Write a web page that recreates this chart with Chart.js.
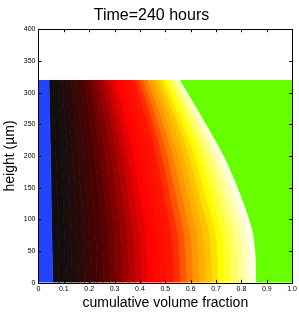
<!DOCTYPE html>
<html>
<head>
<meta charset="utf-8">
<script src="https://cdn.jsdelivr.net/npm/chart.js@4"></script>
<style>
  html, body { margin:0; padding:0; background:#fff; }
</style>
</head>
<body>
<canvas id="c" width="299" height="312"></canvas>
<script>
// heights (um) where the fractions were read
const heights = [0, 40, 80, 120, 160, 200, 240, 280, 320];

// volume fraction of each class at each height, stacked left to right
const blueFrac = [0.056, 0.054, 0.052, 0.050, 0.049, 0.047, 0.045, 0.043, 0.041];
const class01 = [0.0250, 0.0250, 0.0247, 0.0238, 0.0228, 0.0218, 0.0205, 0.0190, 0.0174];
const class02 = [0.0250, 0.0250, 0.0247, 0.0238, 0.0228, 0.0218, 0.0205, 0.0190, 0.0174];
const class03 = [0.0250, 0.0250, 0.0247, 0.0238, 0.0228, 0.0218, 0.0205, 0.0190, 0.0174];
const class04 = [0.0250, 0.0250, 0.0247, 0.0238, 0.0228, 0.0218, 0.0205, 0.0190, 0.0174];
const class05 = [0.0250, 0.0250, 0.0247, 0.0238, 0.0228, 0.0218, 0.0205, 0.0190, 0.0174];
const class06 = [0.0250, 0.0250, 0.0247, 0.0238, 0.0228, 0.0218, 0.0205, 0.0190, 0.0174];
const class07 = [0.0250, 0.0250, 0.0247, 0.0238, 0.0228, 0.0218, 0.0205, 0.0190, 0.0174];
const class08 = [0.0250, 0.0250, 0.0247, 0.0238, 0.0228, 0.0218, 0.0205, 0.0190, 0.0174];
const class09 = [0.0250, 0.0250, 0.0247, 0.0238, 0.0228, 0.0218, 0.0205, 0.0190, 0.0174];
const class10 = [0.0250, 0.0250, 0.0247, 0.0238, 0.0228, 0.0218, 0.0205, 0.0190, 0.0174];
const class11 = [0.0250, 0.0250, 0.0247, 0.0238, 0.0228, 0.0218, 0.0205, 0.0190, 0.0174];
const class12 = [0.0250, 0.0250, 0.0247, 0.0238, 0.0228, 0.0218, 0.0205, 0.0190, 0.0174];
const class13 = [0.0250, 0.0250, 0.0247, 0.0238, 0.0228, 0.0218, 0.0205, 0.0190, 0.0174];
const class14 = [0.0250, 0.0250, 0.0247, 0.0238, 0.0228, 0.0218, 0.0205, 0.0190, 0.0174];
const class15 = [0.0250, 0.0250, 0.0247, 0.0238, 0.0230, 0.0223, 0.0213, 0.0202, 0.0187];
const class16 = [0.0250, 0.0250, 0.0247, 0.0238, 0.0230, 0.0223, 0.0213, 0.0202, 0.0187];
const class17 = [0.0250, 0.0250, 0.0247, 0.0238, 0.0230, 0.0223, 0.0213, 0.0202, 0.0187];
const class18 = [0.0250, 0.0250, 0.0247, 0.0238, 0.0230, 0.0223, 0.0213, 0.0202, 0.0187];
const class19 = [0.0250, 0.0250, 0.0247, 0.0238, 0.0228, 0.0218, 0.0205, 0.0190, 0.0174];
const class20 = [0.0250, 0.0250, 0.0247, 0.0238, 0.0228, 0.0218, 0.0205, 0.0190, 0.0174];
const class21 = [0.0250, 0.0250, 0.0247, 0.0238, 0.0227, 0.0215, 0.0200, 0.0183, 0.0168];
const class22 = [0.0250, 0.0250, 0.0247, 0.0238, 0.0227, 0.0215, 0.0200, 0.0183, 0.0164];
const class23 = [0.0250, 0.0250, 0.0247, 0.0238, 0.0226, 0.0213, 0.0196, 0.0179, 0.0161];
const class24 = [0.0250, 0.0250, 0.0247, 0.0238, 0.0226, 0.0213, 0.0196, 0.0179, 0.0159];
const class25 = [0.0250, 0.0250, 0.0247, 0.0238, 0.0225, 0.0211, 0.0193, 0.0174, 0.0157];
const class26 = [0.0250, 0.0250, 0.0247, 0.0238, 0.0225, 0.0211, 0.0193, 0.0174, 0.0150];
const class27 = [0.0250, 0.0250, 0.0247, 0.0238, 0.0223, 0.0203, 0.0179, 0.0156, 0.0140];
const class28 = [0.0250, 0.0250, 0.0247, 0.0238, 0.0223, 0.0203, 0.0179, 0.0156, 0.0131];
const class29 = [0.0250, 0.0250, 0.0247, 0.0238, 0.0221, 0.0198, 0.0170, 0.0144, 0.0124];
const class30 = [0.0250, 0.0250, 0.0247, 0.0238, 0.0221, 0.0198, 0.0170, 0.0144, 0.0112];
const class31 = [0.0250, 0.0250, 0.0247, 0.0238, 0.0218, 0.0186, 0.0150, 0.0112, 0.0085];
const class32 = [0.0250, 0.0250, 0.0247, 0.0238, 0.0210, 0.0168, 0.0122, 0.0086, 0.0060];
const greenFrac = [0.146, 0.148, 0.161, 0.191, 0.231, 0.275, 0.331, 0.389, 0.448];

const xTicks = [0, 0.1, 0.2, 0.3, 0.4, 0.5, 0.6, 0.7, 0.8, 0.9, 1];
const yTicks = [0, 50, 100, 150, 200, 250, 300, 350, 400];

const classes = [class01, class02, class03, class04, class05, class06, class07, class08,
                 class09, class10, class11, class12, class13, class14, class15, class16,
                 class17, class18, class19, class20, class21, class22, class23, class24,
                 class25, class26, class27, class28, class29, class30, class31, class32];
const hotColors = [
  "#100e0e", "#150d0d", "#190d0d", "#220b0b", "#2c0909", "#370606", "#410404", "#4b0101",
  "#5b0000", "#700000", "#840000", "#990000", "#b40000", "#ce0000", "#e80000", "#ff0100",
  "#ff0800", "#ff0f00", "#ff1500", "#ff2f00", "#ff5500", "#ff7a00", "#ff9900", "#ffaf00",
  "#ffc400", "#ffe100", "#fffc00", "#ffff2e", "#ffff62", "#ffff93", "#ffffbf", "#ffffe9"];

const pts = arr => arr.map((v, i) => ({x: v, y: heights[i]}));
const band = (arr, color, fill) => ({
  data: pts(arr), backgroundColor: color, borderColor: color, borderWidth: 1,
  fill: fill, pointRadius: 0, cubicInterpolationMode: "monotone"
});

const datasets = [band(blueFrac, "#2244ff", "origin")];
classes.forEach((c, i) => datasets.push(band(c, hotColors[i], "-1")));
const g = band(greenFrac, "#66ff00", "-1"); g.borderWidth = 0;
datasets.push(g);

// box round the plot with inward ticks on all four sides
const boxTicks = {
  id: "boxTicks",
  afterDraw(chart){
    const {ctx, chartArea: a, scales:{x, y}} = chart;
    ctx.save();
    ctx.strokeStyle = "#000"; ctx.lineWidth = 1;
    ctx.strokeRect(Math.round(a.left)+0.5, Math.round(a.top)+0.5, Math.round(a.right-a.left), Math.round(a.bottom-a.top));
    ctx.beginPath();
    xTicks.forEach(t=>{
      const px = Math.round(x.getPixelForValue(t))+0.5;
      ctx.moveTo(px, a.bottom); ctx.lineTo(px, a.bottom-3);
      ctx.moveTo(px, a.top); ctx.lineTo(px, a.top+3);
    });
    yTicks.forEach(t=>{
      const py = Math.round(y.getPixelForValue(t))+0.5;
      ctx.moveTo(a.left, py); ctx.lineTo(a.left+3, py);
      ctx.moveTo(a.right, py); ctx.lineTo(a.right-3, py);
    });
    ctx.stroke();
    ctx.restore();
  }
};

const font = "'Liberation Sans', Arial, sans-serif";
new Chart(document.getElementById("c"), {
  type: "line",
  data: { datasets },
  options: {
    indexAxis: "y",
    responsive: false,
    animation: false,
    layout: { padding: { left: 2, right: -2, top: 0, bottom: 0 } },
    plugins: {
      legend: { display: false },
      tooltip: { enabled: false },
      title: { display: true, text: "Time=240 hours", color: "#000",
               font: { family: font, size: 16, weight: "normal" }, padding: { top: 6, bottom: 4 } }
    },
    scales: {
      x: {
        type: "linear", min: 0, max: 1, stacked: true,
        afterBuildTicks: s => { s.ticks = xTicks.map(v => ({value: v})); },
        ticks: { color: "#000", font: { family: font, size: 7 }, padding: 2, maxRotation: 0 },
        grid: { drawOnChartArea: false, drawTicks: false },
        border: { display: false },
        title: { display: true, text: "cumulative volume fraction", color: "#000",
                 font: { family: font, size: 14 }, padding: { top: 0, bottom: 0 } }
      },
      y: {
        type: "linear", min: 0, max: 400,
        afterBuildTicks: s => { s.ticks = yTicks.map(v => ({value: v})); },
        ticks: { color: "#000", font: { family: font, size: 7 }, padding: 3 },
        grid: { drawOnChartArea: false, drawTicks: false },
        border: { display: false },
        title: { display: true, text: "height (\u00b5m)", color: "#000",
                 font: { family: font, size: 14 }, padding: { top: 0, bottom: 2 } }
      }
    }
  },
  plugins: [boxTicks]
});
</script>
</body>
</html>
